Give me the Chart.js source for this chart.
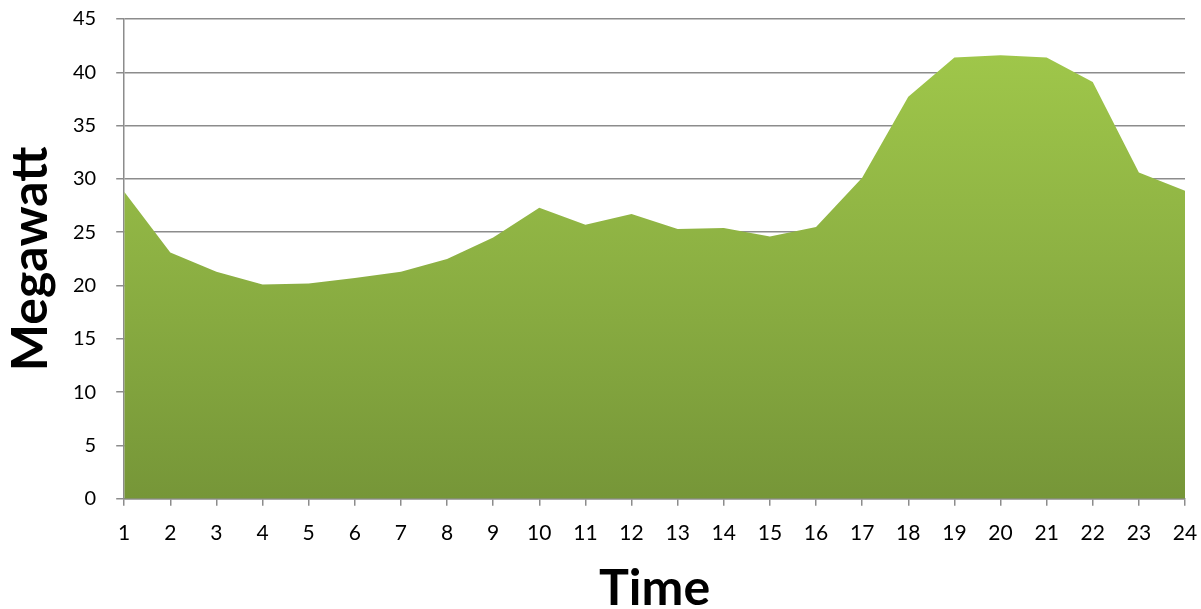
<!DOCTYPE html>
<html>
<head>
<meta charset="utf-8">
<script src="https://cdn.jsdelivr.net/npm/chart.js@4"></script>
<style>
    html, body { margin: 0; padding: 0; background: #fff; }
    #wrap { width: 1201px; height: 609px; }
</style>
</head>
<body>
<div id="wrap"><canvas id="loadChart" width="1201" height="609"></canvas></div>
<script>
// Hours of the day
const hours = ['1', '2', '3', '4', '5', '6', '7', '8', '9', '10', '11', '12',
    '13', '14', '15', '16', '17', '18', '19', '20', '21', '22', '23', '24'];

// Load in megawatt
const megawatt = [28.8, 23.1, 21.3, 20.1, 20.2, 20.7, 21.3, 22.5, 24.5, 27.3, 25.7, 26.7,
    25.3, 25.4, 24.6, 25.5, 30.1, 37.7, 41.4, 41.6, 41.4, 39.1, 30.6, 28.9];

const yTicks = [0, 5, 10, 15, 20, 25, 30, 35, 40, 45];

const fontFamily = 'Lato, "Open Sans", sans-serif';

// green fill, lighter at the top
function areaGradient(context) {
    const chart = context.chart;
    const area = chart.chartArea;
    if (!area) return '#8db042';
    const g = chart.ctx.createLinearGradient(0, area.top, 0, area.bottom);
    g.addColorStop(0, '#a2ca4b');
    g.addColorStop(0.5, '#8db143');
    g.addColorStop(1, '#769638');
    return g;
}

const ctx = document.getElementById('loadChart').getContext('2d');
new Chart(ctx, {
    type: 'line',
    data: {
        labels: hours,
        datasets: [{
            label: 'Megawatt',
            data: megawatt,
            fill: 'origin',
            backgroundColor: areaGradient,
            borderWidth: 0,
            borderColor: 'rgba(0,0,0,0)',
            pointRadius: 0,
            tension: 0
        }]
    },
    options: {
        responsive: false,
        animation: false,
        layout: {
            padding: { top: 19, right: 16, left: 5, bottom: 0 }
        },
        plugins: {
            legend: { display: false },
            tooltip: { enabled: false }
        },
        scales: {
            x: {
                offset: false,
                afterFit: (scale) => {
                    // let the end labels hang into the layout padding
                    scale.paddingLeft = 0;
                    scale.paddingRight = 0;
                },
                grid: {
                    drawOnChartArea: false,
                    drawTicks: true,
                    tickLength: 7,
                    color: '#8c8c8c',
                    lineWidth: 1.5
                },
                border: { color: '#8c8c8c', width: 1.5 },
                ticks: {
                    color: '#000',
                    font: { family: fontFamily, size: 21 },
                    maxRotation: 0,
                    autoSkip: false,
                    padding: 15
                },
                title: {
                    display: true,
                    text: 'Time',
                    color: '#000',
                    font: { family: fontFamily, size: 50, weight: 'bold', lineHeight: 0.8 },
                    padding: { top: 8, bottom: 0 }
                }
            },
            y: {
                min: 0,
                max: 45,
                afterBuildTicks: (axis) => {
                    axis.ticks = yTicks.map(v => ({ value: v }));
                },
                afterFit: (scale) => {
                    scale.paddingTop = 0;
                    scale.paddingBottom = 0;
                },
                grid: {
                    color: '#8c8c8c',
                    lineWidth: 1.5,
                    drawTicks: true,
                    tickLength: 8
                },
                border: { color: '#8c8c8c', width: 1.5 },
                ticks: {
                    color: '#000',
                    font: { family: fontFamily, size: 20 },
                    padding: 20
                },
                title: {
                    display: true,
                    text: 'Megawatt',
                    color: '#000',
                    font: { family: fontFamily, size: 50, weight: 'bold', lineHeight: 0.9 },
                    padding: { top: 3, bottom: 0 }
                }
            }
        }
    }
});
</script>
</body>
</html>
